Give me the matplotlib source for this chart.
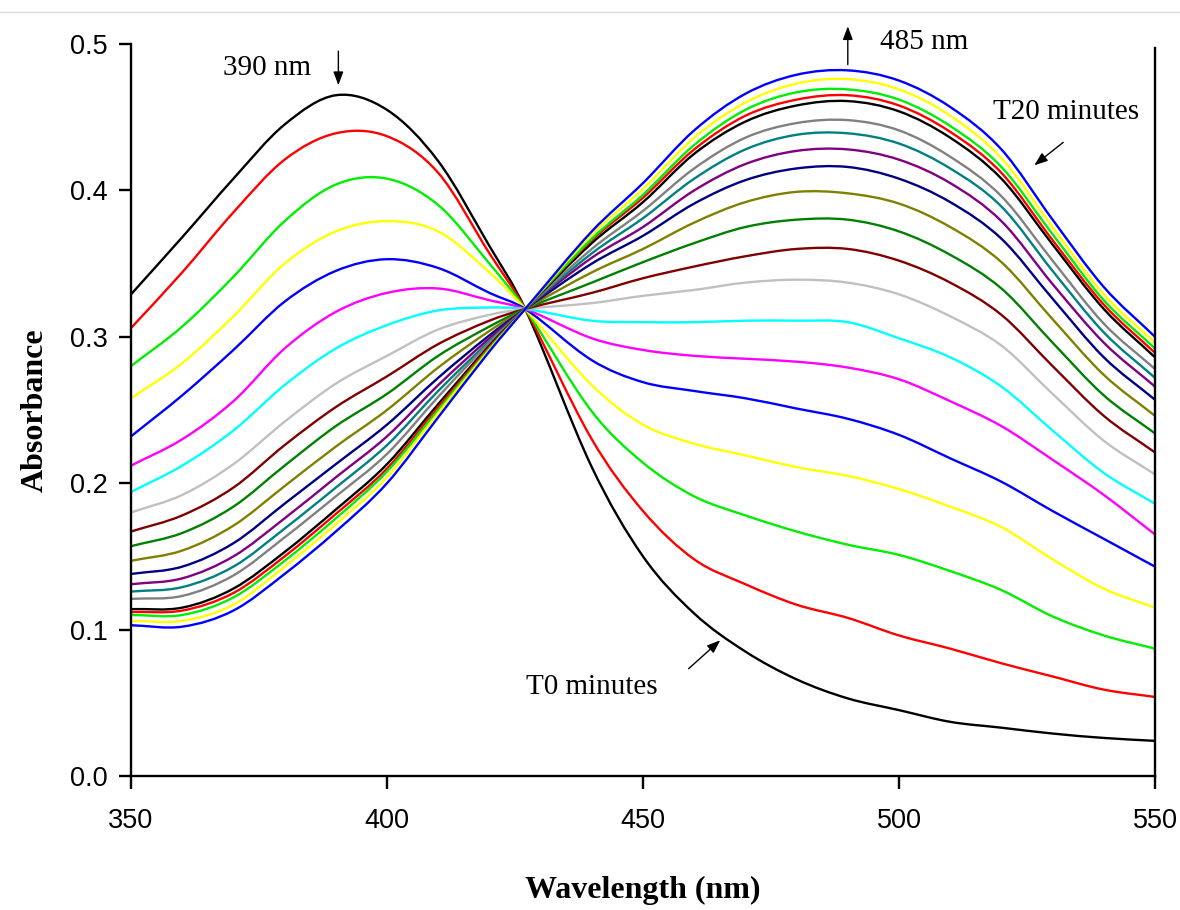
import matplotlib
matplotlib.use("Agg")
import matplotlib.pyplot as plt
from matplotlib.lines import Line2D
from matplotlib.path import Path
from matplotlib.patches import PathPatch

# ---------------- data ----------------
wavelength = [350, 360, 370, 380, 390, 400, 410, 420, 427, 440, 450,
              460, 470, 480, 490, 500, 510, 520, 530, 540, 550]

t00 = [0.329, 0.368, 0.408, 0.445, 0.465, 0.455, 0.420, 0.362, 0.319, 0.211, 0.150,
       0.111, 0.085, 0.066, 0.053, 0.045, 0.037, 0.033, 0.029, 0.026, 0.024]
t01 = [0.306, 0.344, 0.385, 0.421, 0.439, 0.437, 0.412, 0.357, 0.319, 0.230, 0.181,
       0.148, 0.131, 0.117, 0.108, 0.096, 0.087, 0.077, 0.068, 0.059, 0.054]
t02 = [0.280, 0.307, 0.341, 0.379, 0.404, 0.408, 0.390, 0.350, 0.319, 0.249, 0.214,
       0.191, 0.178, 0.167, 0.158, 0.151, 0.140, 0.127, 0.109, 0.096, 0.087]
t03 = [0.258, 0.282, 0.314, 0.350, 0.372, 0.379, 0.372, 0.344, 0.319, 0.267, 0.240,
       0.227, 0.219, 0.211, 0.205, 0.196, 0.184, 0.170, 0.148, 0.128, 0.115]
t04 = [0.232, 0.260, 0.291, 0.324, 0.345, 0.353, 0.347, 0.330, 0.319, 0.284, 0.269,
       0.263, 0.258, 0.251, 0.244, 0.233, 0.217, 0.201, 0.181, 0.162, 0.143]
t05 = [0.212, 0.230, 0.256, 0.292, 0.317, 0.330, 0.333, 0.325, 0.319, 0.299, 0.291,
       0.287, 0.285, 0.283, 0.279, 0.271, 0.256, 0.239, 0.216, 0.192, 0.165]
t06 = [0.194, 0.212, 0.236, 0.267, 0.292, 0.308, 0.318, 0.320, 0.319, 0.311, 0.310,
       0.310, 0.311, 0.311, 0.310, 0.299, 0.286, 0.266, 0.236, 0.207, 0.186]
t07 = [0.180, 0.192, 0.213, 0.242, 0.268, 0.287, 0.305, 0.315, 0.319, 0.323, 0.328,
       0.332, 0.337, 0.339, 0.337, 0.329, 0.314, 0.294, 0.261, 0.229, 0.206]
t08 = [0.167, 0.178, 0.197, 0.226, 0.252, 0.273, 0.295, 0.311, 0.319, 0.330, 0.340,
       0.348, 0.355, 0.360, 0.360, 0.352, 0.337, 0.315, 0.280, 0.246, 0.221]
t09 = [0.157, 0.166, 0.184, 0.212, 0.239, 0.261, 0.287, 0.307, 0.319, 0.337, 0.351,
       0.364, 0.375, 0.380, 0.380, 0.372, 0.356, 0.333, 0.296, 0.260, 0.234]
t10 = [0.147, 0.154, 0.171, 0.198, 0.225, 0.250, 0.279, 0.304, 0.319, 0.344, 0.360,
       0.378, 0.392, 0.399, 0.398, 0.391, 0.375, 0.351, 0.312, 0.274, 0.246]
t11 = [0.138, 0.143, 0.159, 0.186, 0.213, 0.240, 0.272, 0.301, 0.319, 0.350, 0.369,
       0.391, 0.407, 0.415, 0.416, 0.408, 0.392, 0.367, 0.326, 0.286, 0.257]
t12 = [0.131, 0.135, 0.150, 0.176, 0.204, 0.232, 0.267, 0.299, 0.319, 0.354, 0.375,
       0.400, 0.418, 0.427, 0.428, 0.421, 0.405, 0.379, 0.336, 0.296, 0.266]
t13 = [0.126, 0.129, 0.143, 0.169, 0.197, 0.226, 0.263, 0.297, 0.319, 0.357, 0.381,
       0.408, 0.428, 0.438, 0.439, 0.432, 0.415, 0.389, 0.345, 0.303, 0.272]
t14 = [0.121, 0.123, 0.137, 0.163, 0.191, 0.220, 0.259, 0.296, 0.319, 0.360, 0.386,
       0.415, 0.436, 0.446, 0.448, 0.441, 0.423, 0.396, 0.352, 0.309, 0.278]
t15 = [0.114, 0.115, 0.128, 0.153, 0.182, 0.213, 0.254, 0.294, 0.319, 0.364, 0.392,
       0.425, 0.447, 0.458, 0.461, 0.454, 0.436, 0.408, 0.363, 0.319, 0.286]
t16 = [0.112, 0.113, 0.125, 0.150, 0.179, 0.210, 0.252, 0.293, 0.319, 0.366, 0.395,
       0.428, 0.451, 0.462, 0.465, 0.458, 0.440, 0.412, 0.366, 0.322, 0.289]
t17 = [0.110, 0.110, 0.122, 0.147, 0.176, 0.208, 0.250, 0.292, 0.319, 0.367, 0.397,
       0.431, 0.455, 0.467, 0.469, 0.462, 0.444, 0.416, 0.370, 0.325, 0.292]
t18 = [0.106, 0.106, 0.117, 0.143, 0.172, 0.204, 0.248, 0.291, 0.319, 0.370, 0.401,
       0.436, 0.460, 0.473, 0.476, 0.469, 0.451, 0.422, 0.375, 0.329, 0.296]
t19 = [0.103, 0.102, 0.113, 0.138, 0.167, 0.200, 0.245, 0.290, 0.319, 0.372, 0.405,
       0.441, 0.466, 0.479, 0.482, 0.475, 0.457, 0.428, 0.380, 0.334, 0.300]

series = [t00, t01, t02, t03, t04, t05, t06, t07, t08, t09,
          t10, t11, t12, t13, t14, t15, t16, t17, t18, t19]

colors = ["#000000", "#ff0000", "#00ee00", "#ffff00", "#0000ff", "#ff00ff",
          "#00ffff", "#c0c0c0", "#800000", "#008000", "#808000", "#000080",
          "#800080", "#008080", "#808080", "#000000", "#ff0000", "#00ee00",
          "#ffff00", "#0000ff"]

x_ticks = [350, 400, 450, 500, 550]
y_ticks = [0.0, 0.1, 0.2, 0.3, 0.4, 0.5]
y_tick_labels = ["0.0", "0.1", "0.2", "0.3", "0.4", "0.5"]


def smooth_path(xs, ys):
    """Spline-style line through the data points, drawn as a Bezier path."""
    pts = list(zip(xs, ys))
    n = len(pts)
    verts = [pts[0]]
    codes = [Path.MOVETO]
    for i in range(n - 1):
        p0 = pts[i - 1] if i > 0 else pts[i]
        p1 = pts[i]
        p2 = pts[i + 1]
        p3 = pts[i + 2] if i + 2 < n else pts[i + 1]
        h = p2[0] - p1[0]
        m1 = (p2[1] - p0[1]) / (p2[0] - p0[0]) if p2[0] != p0[0] else 0.0
        m2 = (p3[1] - p1[1]) / (p3[0] - p1[0]) if p3[0] != p1[0] else 0.0
        c1 = (p1[0] + h / 3.0, p1[1] + m1 * h / 3.0)
        c2 = (p2[0] - h / 3.0, p2[1] - m2 * h / 3.0)
        verts += [c1, c2, p2]
        codes += [Path.CURVE4] * 3
    return Path(verts, codes)


# ---------------- figure ----------------
W, H = 1180, 910
fig = plt.figure(figsize=(W / 100, H / 100), dpi=100)
ax = fig.add_axes([131 / W, 1 - 776 / H, (1155 - 131) / W, (776 - 44) / H])

for s, c in zip(series, colors):
    ax.add_patch(PathPatch(smooth_path(wavelength, s), facecolor="none",
                           edgecolor=c, lw=1.7, joinstyle="round"))

ax.set_xlim(350, 550)
ax.set_ylim(0.0, 0.5)
ax.set_xticks(x_ticks)
ax.set_yticks(y_ticks)
ax.set_yticklabels(y_tick_labels)

for side in ["left", "bottom", "right"]:
    ax.spines[side].set_linewidth(1.7)
    ax.spines[side].set_color("black")
ax.spines["top"].set_visible(False)
ax.spines["right"].set_bounds(0.0, 0.497)

ax.tick_params(axis="both", direction="out", length=9, width=1.7,
               labelsize=19.5, colors="black")
ax.tick_params(axis="y", pad=8)
ax.tick_params(axis="x", pad=14)
for lab in ax.get_xticklabels() + ax.get_yticklabels():
    lab.set_fontfamily("Liberation Sans")

ax.set_xlabel("Wavelength (nm)", fontsize=23, fontweight="bold",
              fontfamily="Liberation Serif", labelpad=30)
ax.set_ylabel("Absorbance", fontsize=23, fontweight="bold",
              fontfamily="Liberation Serif", labelpad=14)

# annotations
tfont = dict(fontfamily="Liberation Serif", fontsize=21, color="black")
ax.text(376.6, 0.4836, "390 nm", ha="center", va="center", **tfont)
ax.text(505.0, 0.5014, "485 nm", ha="center", va="center", **tfont)
ax.text(532.6, 0.4536, "T20 minutes", ha="center", va="center", **tfont)
ax.text(440.0, 0.0605, "T0 minutes", ha="center", va="center", **tfont)

arrow = dict(arrowstyle="-|>,head_length=0.8,head_width=0.3", color="black", lw=1.0)
ax.annotate("", xy=(390.5, 0.470), xytext=(390.5, 0.497), arrowprops=arrow,
            annotation_clip=False)
ax.annotate("", xy=(490, 0.514), xytext=(490, 0.484), arrowprops=arrow,
            annotation_clip=False)
ax.annotate("", xy=(526, 0.416), xytext=(532.5, 0.434), arrowprops=arrow)
ax.annotate("", xy=(465.5, 0.094), xytext=(458.5, 0.072), arrowprops=arrow)

# faint border line at the top of the picture
fig.add_artist(Line2D([0, 1], [1 - 12 / H, 1 - 12 / H], color="#dddddd", lw=1))

fig.savefig("out.png", dpi=100, facecolor="white")
